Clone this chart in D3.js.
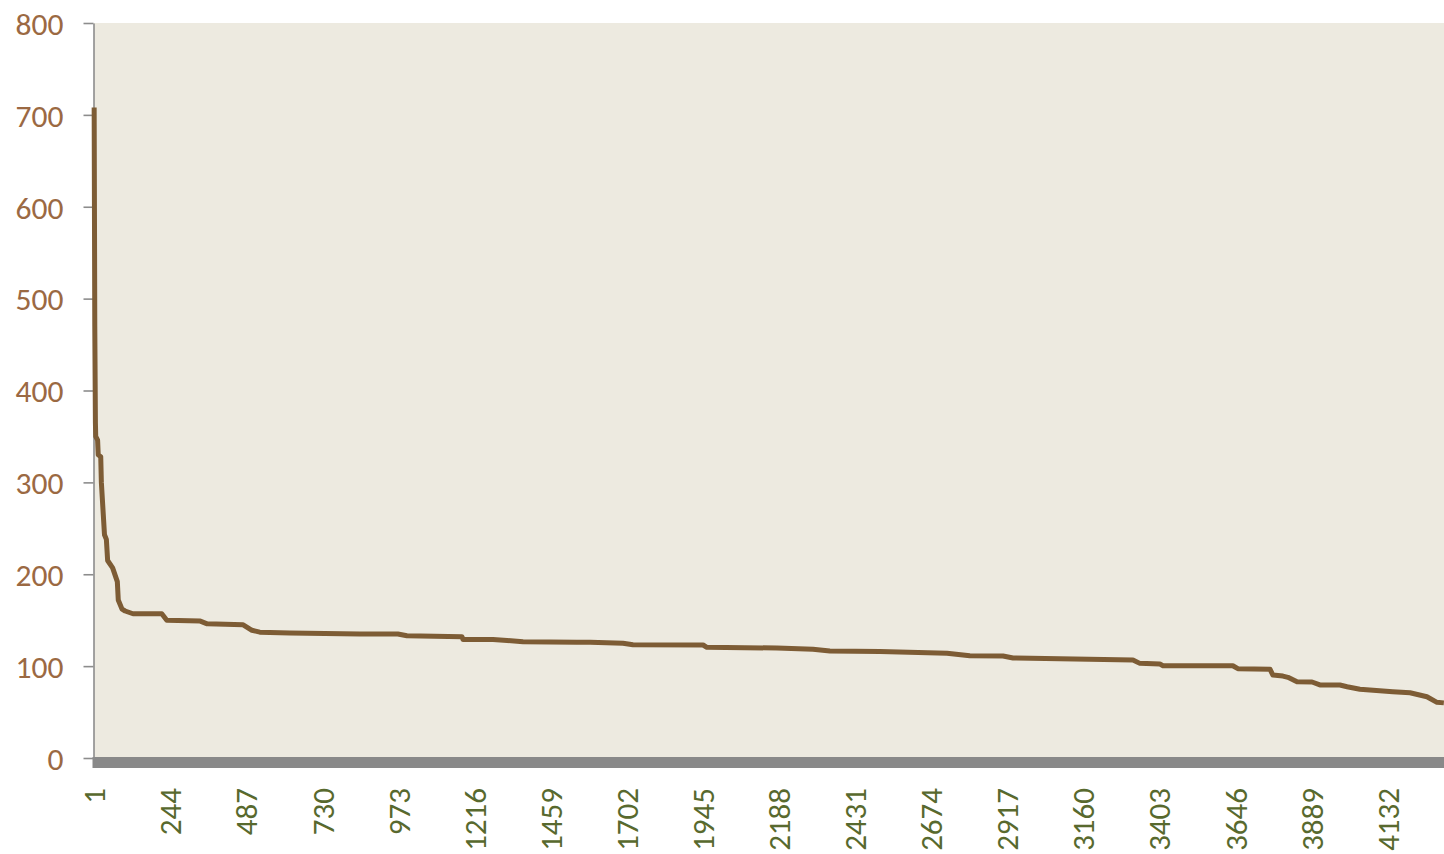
<!DOCTYPE html>
<html>
<head>
<meta charset="utf-8">
<script src="https://cdn.jsdelivr.net/npm/d3@7"></script>
<style>
  html, body { margin: 0; padding: 0; background: #fff; }
  #chart { width: 1444px; height: 854px; }
</style>
</head>
<body>
<div id="chart"></div>
<script>
// sorted values at the points where the curve bends
const ranks = [1, 3, 5, 6, 12, 14, 22, 24, 34, 40, 44, 60, 75, 78, 90, 100, 125, 217, 233, 340,
    362, 477, 505, 530, 626, 850, 971, 1000, 1176, 1179, 1275, 1320, 1371, 1543, 1585, 1690,
    1722, 1946, 1958, 2182, 2297, 2351, 2511, 2725, 2798, 2904, 2936, 3319, 3341, 3405, 3415,
    3638, 3654, 3757, 3766, 3798, 3814, 3843, 3891, 3916, 3980, 4003, 4044, 4149, 4204, 4258,
    4290, 4312];
const values = [708, 470, 365, 350, 346, 330, 328, 300, 243, 238, 215, 207, 192, 172, 162, 160, 157, 157, 150, 149,
    146, 145, 139, 137, 136, 135, 135, 133, 132, 129, 129, 128, 126.6, 126, 126, 125,
    123.3, 123, 120.5, 119.7, 118.3, 116.5, 116, 114, 111.3, 111, 108.8, 106.7, 103, 102.3, 100.5,
    100.4, 97.2, 96.5, 90.3, 89.2, 87.8, 83, 82.7, 79.5, 79.5, 77.6, 74.8, 72.2, 71, 66.7,
    60.6, 60];

const xTickLabels = [1, 244, 487, 730, 973, 1216, 1459, 1702, 1945, 2188, 2431, 2674, 2917, 3160, 3403, 3646, 3889, 4132];
const yTicks = [0, 100, 200, 300, 400, 500, 600, 700, 800];

document.addEventListener("DOMContentLoaded", () => {

    const width = 1444;
    const height = 854;
    const left = 94, right = 1444, top = 23, bottom = 758;
    const n = ranks[ranks.length - 1];
    const font = "Carlito, Lato, 'Open Sans', sans-serif";

    const x = d3.scaleLinear().domain([0.5, n + 0.5]).range([left, right]);
    const y = d3.scaleLinear().domain([0, 800]).range([bottom, top]);

    const svg = d3.create("svg")
        .attr("viewBox", [0, 0, width, height])
        .attr("width", width)
        .attr("height", height);

    // plot background
    svg.append("rect")
        .attr("x", left).attr("y", top)
        .attr("width", right - left).attr("height", bottom - top)
        .attr("fill", "#edeae0");

    // grey floor under the plot
    svg.append("rect")
        .attr("x", left - 1.5).attr("y", bottom - 1)
        .attr("width", right - left + 1.5).attr("height", 11)
        .attr("fill", "#898989");

    // y axis
    const yAxis = svg.append("g")
        .attr("transform", `translate(${left - 0.5},0)`)
        .call(d3.axisLeft(y).tickValues(yTicks).tickSize(10).tickPadding(20).tickSizeOuter(0))
        .attr("font-family", font);
    yAxis.select(".domain").attr("stroke", "#8c8c8c").attr("stroke-width", 1.6);
    yAxis.selectAll(".tick line").attr("stroke", "#8c8c8c").attr("stroke-width", 1.6);
    yAxis.selectAll(".tick text")
        .attr("fill", "#9b6943")
        .attr("font-size", 31.5)
        .attr("dy", "0.36em");

    // x labels, rotated
    svg.append("g")
        .attr("font-family", font)
        .selectAll("text")
        .data(xTickLabels)
        .join("text")
            .attr("transform", d => `translate(${x(d)},788) rotate(-90)`)
            .attr("text-anchor", "end")
            .attr("dy", "0.36em")
            .attr("font-size", 31)
            .attr("fill", "#58692e")
            .text(d => d);

    // the curve
    const line = d3.line()
        .x((d, i) => x(ranks[i]))
        .y(d => y(d));

    svg.append("path")
        .datum(values)
        .attr("fill", "none")
        .attr("stroke", "#7d5c35")
        .attr("stroke-width", 5)
        .attr("stroke-linejoin", "round")
        .attr("d", line);

    document.getElementById("chart").append(svg.node());
});
</script>
</body>
</html>
